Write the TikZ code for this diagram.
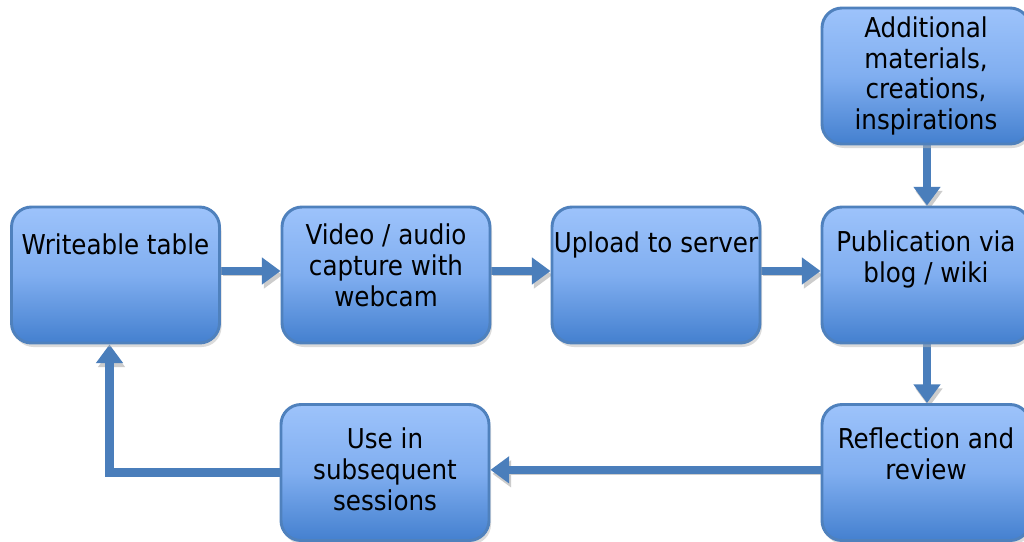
\documentclass[tikz,border=0pt]{standalone}
\usepackage{fontspec}
\setmainfont{DejaVu Sans Condensed}
\usetikzlibrary{arrows.meta,shadows}
\definecolor{boxtop}{HTML}{9DC3FB}
\definecolor{boxmid}{HTML}{80AEF0}
\definecolor{boxbot}{HTML}{4480CF}
\definecolor{boxline}{HTML}{4F81BD}
\definecolor{arrowblue}{HTML}{4A7EBB}
\pgfdeclarelayer{background}
\pgfsetlayers{background,main}
\begin{document}
\begin{tikzpicture}[x=0.75pt,y=-0.75pt,
  flowbox/.style={draw=boxline, line width=2.2pt, rounded corners=15pt,
    minimum width=156pt, minimum height=102pt, inner sep=0pt,
    top color=boxtop, bottom color=boxbot, middle color=boxmid,
    drop shadow={shadow xshift=1.5pt, shadow yshift=-3pt, fill=black!28}},
  boxtext/.style={anchor=base, align=center, inner sep=0pt,
    font=\fontsize{20.5}{22.9}\selectfont},
  flow/.style={draw=arrowblue, line width=6.5pt,
    -{Triangle[width=19.5pt,length=14pt]},
    preaction={draw=black!20, transform canvas={xshift=1.5pt,yshift=-3pt}}}
]
\useasboundingbox (0,0) rectangle (1024,542);
\clip (0,0) rectangle (1024,542);

\node[flowbox] (wt)   at (115.5,275) {};
\node[flowbox] (va)   at (386,275) {};
\node[flowbox] (up)   at (656,275) {};
\node[flowbox] (pub)  at (926,275) {};
\node[flowbox] (add)  at (926,76) {};
\node[flowbox] (refl) at (926,472.5) {};
\node[flowbox] (use)  at (385,472.5) {};

\begin{pgfonlayer}{background}
\fill[white] (0,0) rectangle (1024,542);
\draw[flow] ([yshift=3pt]wt.east) -- ([yshift=3pt]va.west);
\draw[flow] ([yshift=3pt]va.east) -- ([yshift=3pt]up.west);
\draw[flow] ([yshift=3pt]up.east) -- ([yshift=3pt]pub.west);
\draw[flow] ([xshift=0.75pt]add.south) -- ([xshift=0.75pt]pub.north);
\draw[flow] ([xshift=0.75pt]pub.south) -- ([xshift=0.75pt]refl.north);
\draw[flow] ([yshift=2pt]refl.west) -- ([yshift=2pt]use.east);
\draw[flow] (use.west) -| ([xshift=-4.5pt]wt.south);
\end{pgfonlayer}

\node[boxtext] (wtt)  at (115.5,254) {Writeable table};
\node[boxtext] (vat)  at (386,306) {Video / audio\\capture with\\webcam};
\node[boxtext] (upt)  at (656,252) {Upload to server};
\node[boxtext] (pubt) at (926,282) {Publication via\\blog / wiki};
\node[boxtext] (addt) at (926,129.5) {Additional\\materials,\\creations,\\inspirations};
\node[boxtext] (reft) at (926,479) {Reflection and\\review};
\node[boxtext] (uset) at (385,510) {Use in\\subsequent\\sessions};
\end{tikzpicture}
\end{document}
